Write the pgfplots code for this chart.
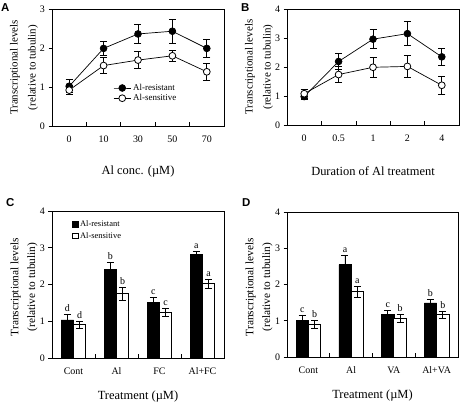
\documentclass[border=0pt]{standalone}
\usepackage{fontspec}
\setmainfont{Liberation Serif}
\newfontfamily\letterfont{Liberation Sans}
\usepackage{pgfplots}
\pgfplotsset{compat=1.18}
\pgfplotsset{
  panel/.style={
    scale only axis, anchor=south west,
    axis line style={black, line width=0.7bp},
    tick style={black, line width=0.6bp},
    tick align=outside,
    major tick length=3.5bp, minor tick length=3.5bp,
    xtick pos=bottom, ytick pos=left,
    major x tick style={draw=none},
    minor x tick style={yshift=3.5bp},
    ymin=0,
    /pgf/number format/assume math mode=true,
    tick label style={font=\fontsize{10}{12}\selectfont},
    x tick label style={yshift=-3bp},
    every axis y label/.style={at={(rel axis cs:0,0.5)}, xshift=-28bp, rotate=90, anchor=center, align=center, font=\fontsize{11}{12}\selectfont},
    every axis x label/.style={at={(rel axis cs:0.5,0)}, yshift=-46bp, anchor=center, font=\fontsize{12.5}{14}\selectfont},
    ylabel={Transcriptional levels\\[6bp](relative to tubulin)},
    clip=false,
    error bars/error bar style={black, line width=0.7bp},
    error bars/error mark options={black, rotate=90, mark size=3.5bp, line width=0.7bp},
  },
  linepanel/.style={panel, xmin=-0.5, xmax=4.5, xtick={0,...,4}, minor xtick={0.5,1.5,2.5,3.5}},
  barpanel/.style={panel, xmin=-0.5, xmax=3.5, xtick={0,...,3}, minor xtick={0.5,1.5,2.5}, ymax=4, ytick={0,...,4},
    every axis x label/.append style={yshift=7bp},
    every axis y label/.append style={xshift=-2.5bp, font=\fontsize{11.4}{12}\selectfont},
    ylabel={Transcriptional levels\\[5bp](relative to tubulin)}},
  res/.style={black, line width=0.7bp, mark=*, mark size=3.4bp, mark options={fill=black, draw=black, solid}},
  sen/.style={black, line width=0.7bp, mark=*, mark size=3.4bp, mark options={fill=white, draw=black, line width=0.8bp, solid}},
  bres/.style={ybar, bar width=0.288, bar shift=0pt, fill=black, draw=black, line width=0.5bp},
  bsen/.style={ybar, bar width=0.288, bar shift=0pt, fill=white, draw=black, line width=0.8bp},
  lett/.style={draw=none, mark=none, nodes near coords, point meta=explicit symbolic, every node near coord/.append style={anchor=south, font=\fontsize{10}{12}\selectfont, inner sep=2.5bp}},
}
\begin{document}
\begin{tikzpicture}
\useasboundingbox (0,0) rectangle (464bp,408bp);
% ---------------- A
\begin{axis}[linepanel, at={(52bp,282bp)}, width=172bp, height=117bp,
  ymax=3, ytick={0,1,2,3}, xticklabels={0,10,30,50,70},
  xlabel={Al conc. (µM)},
  legend style={at={(rel axis cs:0.35,0.385)}, anchor=north west, draw=none, fill=none, font=\fontsize{9}{10}\selectfont, row sep=-1.5bp, inner sep=1bp},
  legend cell align=left]
\addplot[res, error bars/.cd, y dir=both, y explicit] table[y error=e] {
x y e
0 1.02 0.17
1 1.99 0.17
2 2.36 0.25
3 2.43 0.30
4 1.99 0.22
};
\addlegendentry{Al-resistant}
\addplot[sen, error bars/.cd, y dir=both, y explicit] table[y error=e] {
x y e
0 0.92 0.12
1 1.55 0.20
2 1.69 0.22
3 1.80 0.13
4 1.39 0.21
};
\addlegendentry{Al-sensitive}
\end{axis}
% ---------------- B
\begin{axis}[linepanel, at={(287bp,283bp)}, width=172bp, height=116bp,
  ymax=4, ytick={0,...,4}, xticklabels={0,0.5,1,2,4},
  xlabel={Duration of Al treatment}]
\addplot[res, error bars/.cd, y dir=both, y explicit] table[y error=e] {
x y e
0 0.98 0.10
1 2.19 0.28
2 2.96 0.33
3 3.15 0.42
4 2.35 0.28
};
\addplot[sen, error bars/.cd, y dir=both, y explicit] table[y error=e] {
x y e
0 1.08 0.15
1 1.74 0.27
2 1.99 0.34
3 2.02 0.38
4 1.37 0.31
};
\end{axis}
% ---------------- C
\begin{axis}[barpanel, at={(52bp,50bp)}, width=172bp, height=147bp,
  xticklabels={Cont,Al,FC,Al+FC},
  xlabel={Treatment (µM)},
  legend style={at={(rel axis cs:0.11,0.955)}, anchor=north west, draw=none, fill=none, font=\fontsize{8.5}{10}\selectfont, row sep=0bp, inner sep=1bp},
  legend cell align=left,
  legend image code/.code={\draw[#1, line width=0.6bp] (0bp,-2.7bp) rectangle (5.4bp,2.7bp);}]
\addplot[bres, error bars/.cd, y dir=both, y explicit] table[y error=e] {
x y e
-0.144 1.04 0.15
0.856 2.41 0.20
1.856 1.52 0.13
2.856 2.81 0.08
};
\addlegendentry{Al-resistant}
\addplot[bsen, error bars/.cd, y dir=both, y explicit] table[y error=e] {
x y e
0.144 0.91 0.10
1.144 1.75 0.18
2.144 1.25 0.11
3.144 2.02 0.12
};
\addlegendentry{Al-sensitive}
\addplot[lett, forget plot] table[meta=l] {
x y l
-0.144 1.19 d
0.144 1.01 d
0.856 2.61 b
1.144 1.93 b
1.856 1.65 c
2.144 1.36 c
2.856 2.89 a
3.144 2.14 a
};
\end{axis}
% ---------------- D
\begin{axis}[barpanel, at={(287bp,51bp)}, width=171bp, height=145bp,
  xticklabels={Cont,Al,VA,Al+VA},
  xlabel={Treatment (µM)}]
\addplot[bres, error bars/.cd, y dir=both, y explicit] table[y error=e] {
x y e
-0.144 1.01 0.15
0.856 2.55 0.26
1.856 1.17 0.11
2.856 1.49 0.10
};
\addplot[bsen, error bars/.cd, y dir=both, y explicit] table[y error=e] {
x y e
0.144 0.90 0.10
1.144 1.80 0.15
2.144 1.06 0.11
3.144 1.17 0.10
};
\addplot[lett] table[meta=l] {
x y l
-0.144 1.16 c
0.144 1.00 b
0.856 2.81 a
1.144 1.95 a
1.856 1.28 c
2.144 1.17 b
2.856 1.59 b
3.144 1.27 b
};
\end{axis}
% panel letters
\node[anchor=north west, inner sep=0pt, font=\letterfont\bfseries\fontsize{11.5}{12}\selectfont] at (1bp,405bp) {A};
\node[anchor=north west, inner sep=0pt, font=\letterfont\bfseries\fontsize{11.5}{12}\selectfont] at (241bp,405bp) {B};
\node[anchor=north west, inner sep=0pt, font=\letterfont\bfseries\fontsize{11.5}{12}\selectfont] at (6bp,210bp) {C};
\node[anchor=north west, inner sep=0pt, font=\letterfont\bfseries\fontsize{11.5}{12}\selectfont] at (242bp,210bp) {D};
\end{tikzpicture}
\end{document}
